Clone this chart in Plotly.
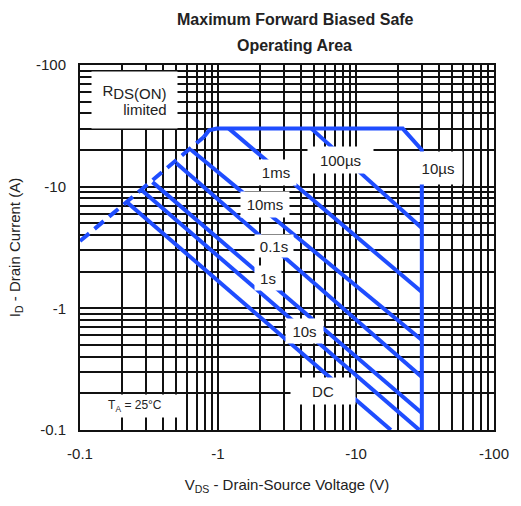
import plotly.graph_objects as go

# ---------------- data (magnitudes; labels shown negative) ----------------
x_tick_vals = [0.1, 1, 10, 100]
x_tick_text = ["-0.1", "-1", "-10", "-100"]
y_tick_vals = [0.1, 1, 10, 100]
y_tick_text = ["-0.1", "-1", "-10", "-100"]

# RDS(on) limited (dashed)
rds_v = [0.1, 0.79]
rds_i = [3.57, 25.6]

# current limit / 10 us / voltage limit envelope
env_v = [0.79, 0.86, 0.98, 21.8, 30.0, 30.0]
env_i = [25.6, 29.0, 30.0, 30.0, 20.0, 0.1]

curve_names = ["100µs", "1ms", "10ms", "0.1s", "1s", "10s", "DC"]
curve_v = [
    [4.75, 30.0],
    [1.2, 30.0],
    [0.64, 30.0],
    [0.50, 30.0],
    [0.335, 30.0],
    [0.279, 28.8],
    [0.218, 17.9],
]
curve_i = [
    [30.0, 4.57],
    [30.0, 1.36],
    [20.0, 0.549],
    [15.6, 0.273],
    [10.9, 0.138],
    [9.38, 0.1],
    [7.47, 0.1],
]

BLUE = "#1f4dff"
FONT = "Liberation Sans, Arial, sans-serif"
LW = 4

# ---------------- figure ----------------
fig = go.Figure()
fig.add_trace(go.Scatter(x=rds_v, y=rds_i, mode="lines",
                         line=dict(color=BLUE, width=LW, dash="12px,7px"),
                         showlegend=False, hoverinfo="skip"))
fig.add_trace(go.Scatter(x=env_v, y=env_i, mode="lines",
                         line=dict(color=BLUE, width=LW),
                         showlegend=False, hoverinfo="skip"))
for name, v, i in zip(curve_names, curve_v, curve_i):
    fig.add_trace(go.Scatter(x=v, y=i, mode="lines", name=name,
                             line=dict(color=BLUE, width=LW),
                             showlegend=False, hoverinfo="skip"))

def minor_vals(lo_exp, hi_exp):
    vals = []
    for e in range(lo_exp, hi_exp):
        for m in range(2, 10):
            vals.append(round(m * 10 ** e, 6))
    return vals

L, R, T, B = 80, 24, 65, 76
W, H = 521, 506
PW, PH = W - L - R, H - T - B

def px2x(px):
    return -1 + 3 * (px - L) / PW

def py2y(py):
    return -1 + 3 * (H - B - py) / PH

def px2paper(px):
    return (px - L) / PW

def py2paper(py):
    return (H - B - py) / PH

axis_common = dict(
    type="log", range=[-1, 2], tickmode="array",
    showgrid=True, gridcolor="#111111", gridwidth=2,
    showline=True, linecolor="#111111", linewidth=2, mirror=True,
    ticks="", ticklabelstandoff=9, zeroline=False,
    tickfont=dict(family=FONT, size=15, color="#222"),
    minor=dict(tickmode="array", tickvals=minor_vals(-1, 2), showgrid=True,
               gridcolor="#111111", gridwidth=2, ticks=""),
)
fig.update_xaxes(tickvals=x_tick_vals, ticktext=x_tick_text,
                 title=dict(text="V<sub>DS</sub> - Drain-Source Voltage (V)",
                            font=dict(family=FONT, size=15, color="#222"),
                            standoff=18),
                 **axis_common)
fig.update_yaxes(tickvals=y_tick_vals, ticktext=y_tick_text,
                 title=dict(text="I<sub>D</sub> - Drain Current (A)",
                            font=dict(family=FONT, size=15, color="#222"),
                            standoff=12),
                 **axis_common)

annos = []
# (text, center px x, center px y, box w, box h, font size)
boxes = [
    ("R<sub><span style='font-size:15px'>DS(ON)</span></sub><br>&nbsp;&nbsp;&nbsp;&nbsp;&nbsp;limited", 135, 100, 85, 56, 15),
    ("1ms", 277, 172, 40, 25, 15),
    ("100µs", 342, 160, 65, 26, 15),
    ("10µs", 441, 168, 48, 32, 15),
    ("10ms", 266, 204, 48, 25, 15),
    ("0.1s", 275, 246, 38, 22, 15),
    ("1s", 269, 278, 26, 24, 15),
    ("10s", 306, 331, 37, 24, 15),
    ("DC", 325, 391, 64, 26, 15),
    ("T<sub>A</sub> = 25°C", 135, 406, 84, 22, 12),
]
for text, cx, cy, bw, bh, fs in boxes:
    annos.append(dict(text=text, x=px2x(cx), y=py2y(cy), xref="x", yref="y",
                      showarrow=False, bgcolor="white", width=bw, height=bh,
                      borderpad=0, align="center", valign="middle",
                      font=dict(family=FONT, size=fs, color="#222")))

annos.append(dict(text="<b>Maximum Forward Biased Safe</b>", x=px2paper(297), y=py2paper(19),
                  xref="paper", yref="paper", showarrow=False, yanchor="middle",
                  font=dict(family=FONT, size=16, color="#222")))
annos.append(dict(text="<b>Operating Area</b>", x=px2paper(296), y=py2paper(45),
                  xref="paper", yref="paper", showarrow=False, yanchor="middle",
                  font=dict(family=FONT, size=16, color="#222")))

fig.update_layout(width=W, height=H, margin=dict(l=L, r=R, t=T, b=B),
                  paper_bgcolor="white", plot_bgcolor="white",
                  annotations=annos, showlegend=False)

fig.write_html("out.html", config={"displayModeBar": False},
               post_script="document.body.style.margin='0';")
